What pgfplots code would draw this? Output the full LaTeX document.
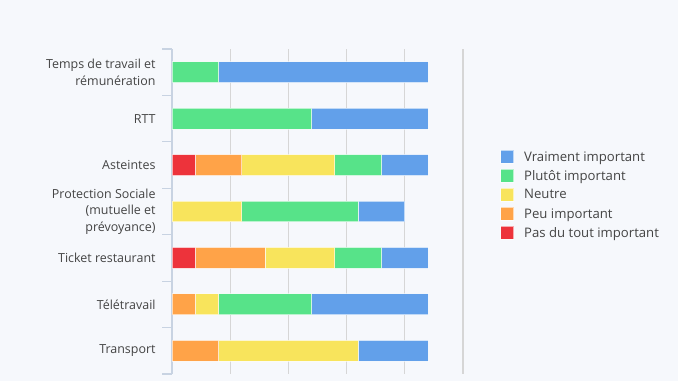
\documentclass[border=0pt]{standalone}
\usepackage{pgfplots}
\pgfplotsset{compat=1.18}
\usepackage{pgfplotstable}
\usepackage{fontspec}
\setmainfont{Open Sans}
\definecolor{bg}{HTML}{F6F8FC}
\definecolor{cblue}{HTML}{62A0EA}
\definecolor{cgreen}{HTML}{57E389}
\definecolor{cyellow}{HTML}{F8E45C}
\definecolor{corange}{HTML}{FFA348}
\definecolor{cred}{HTML}{ED333B}
\definecolor{txt}{HTML}{444444}
\definecolor{axline}{HTML}{C8D3E2}
\definecolor{gridc}{HTML}{D6D6D6}

% columns: category index, pas du tout, peu, neutre, plutot, vraiment
\pgfplotstableread{
y red orange yellow green blue
0 0 0 0 2 9
1 0 0 0 6 5
2 1 2 4 2 2
3 0 0 3 5 2
4 1 3 3 2 2
5 0 1 1 4 5
6 0 2 6 0 3
}\datatable

\begin{document}
\begin{tikzpicture}[x=1bp,y=1bp]
\fill[bg] (0,0) rectangle (678,381);
\path[use as bounding box] (0,0) rectangle (678,381);
\begin{axis}[
  at={(172bp,7bp)}, anchor=south west,
  scale only axis, width=291bp, height=325bp,
  xbar stacked, bar width=0.45,
  xmin=0, xmax=12.5,
  ymin=-0.5, ymax=6.5, y dir=reverse,
  xtick={2.5,5,7.5,10,12.5}, xticklabels={},
  xmajorgrids, grid style={gridc, line width=1.2bp},
  major x tick style={draw=none},
  ytick={0,...,6},
  yticklabels={{Temps de travail et\\rémunération},{RTT},{Asteintes},{Protection Sociale\\(mutuelle et\\prévoyance)},{Ticket restaurant},{Télétravail},{Transport}},
  yticklabel style={align=right, font=\fontsize{12.5}{16.5}\selectfont, text=txt, inner sep=0pt, xshift=-12bp},
  major y tick style={draw=none},
  minor ytick={-0.5,0.5,...,6.5},
  minor y tick style={axline, line width=1.2bp},
  minor tick length=10bp,
  tick align=outside,
  axis x line*=bottom,
  axis y line*=left,
  x axis line style={draw=none},
  y axis line style={axline, line width=1.2bp, -},
  legend image code/.code={\fill[#1] (0bp,-6.5bp) rectangle (13bp,6.5bp);},
  reverse legend,
  legend cell align=left,
  legend style={at={(rel axis cs:1.127,0.69)}, anchor=north west, draw=none, fill=none,
    font=\fontsize{13.2}{14}\selectfont, text=txt, inner sep=0pt,
    row sep=5bp,
    nodes={inner sep=0pt, outer sep=0pt, anchor=west},
    column sep=0pt},
]
\addplot[fill=cred, draw=white, draw opacity=0.6, line width=1bp] table[x=red, y=y] {\datatable};
\addplot[fill=corange, draw=white, draw opacity=0.6, line width=1bp] table[x=orange, y=y] {\datatable};
\addplot[fill=cyellow, draw=white, draw opacity=0.6, line width=1bp] table[x=yellow, y=y] {\datatable};
\addplot[fill=cgreen, draw=white, draw opacity=0.6, line width=1bp] table[x=green, y=y] {\datatable};
\addplot[fill=cblue, draw=white, draw opacity=0.6, line width=1bp] table[x=blue, y=y] {\datatable};
\legend{\hspace{10bp}Pas du tout important,\hspace{10bp}Peu important,\hspace{10bp}Neutre,\hspace{10bp}Plutôt important,\hspace{10bp}Vraiment important}
\end{axis}
\end{tikzpicture}
\end{document}
